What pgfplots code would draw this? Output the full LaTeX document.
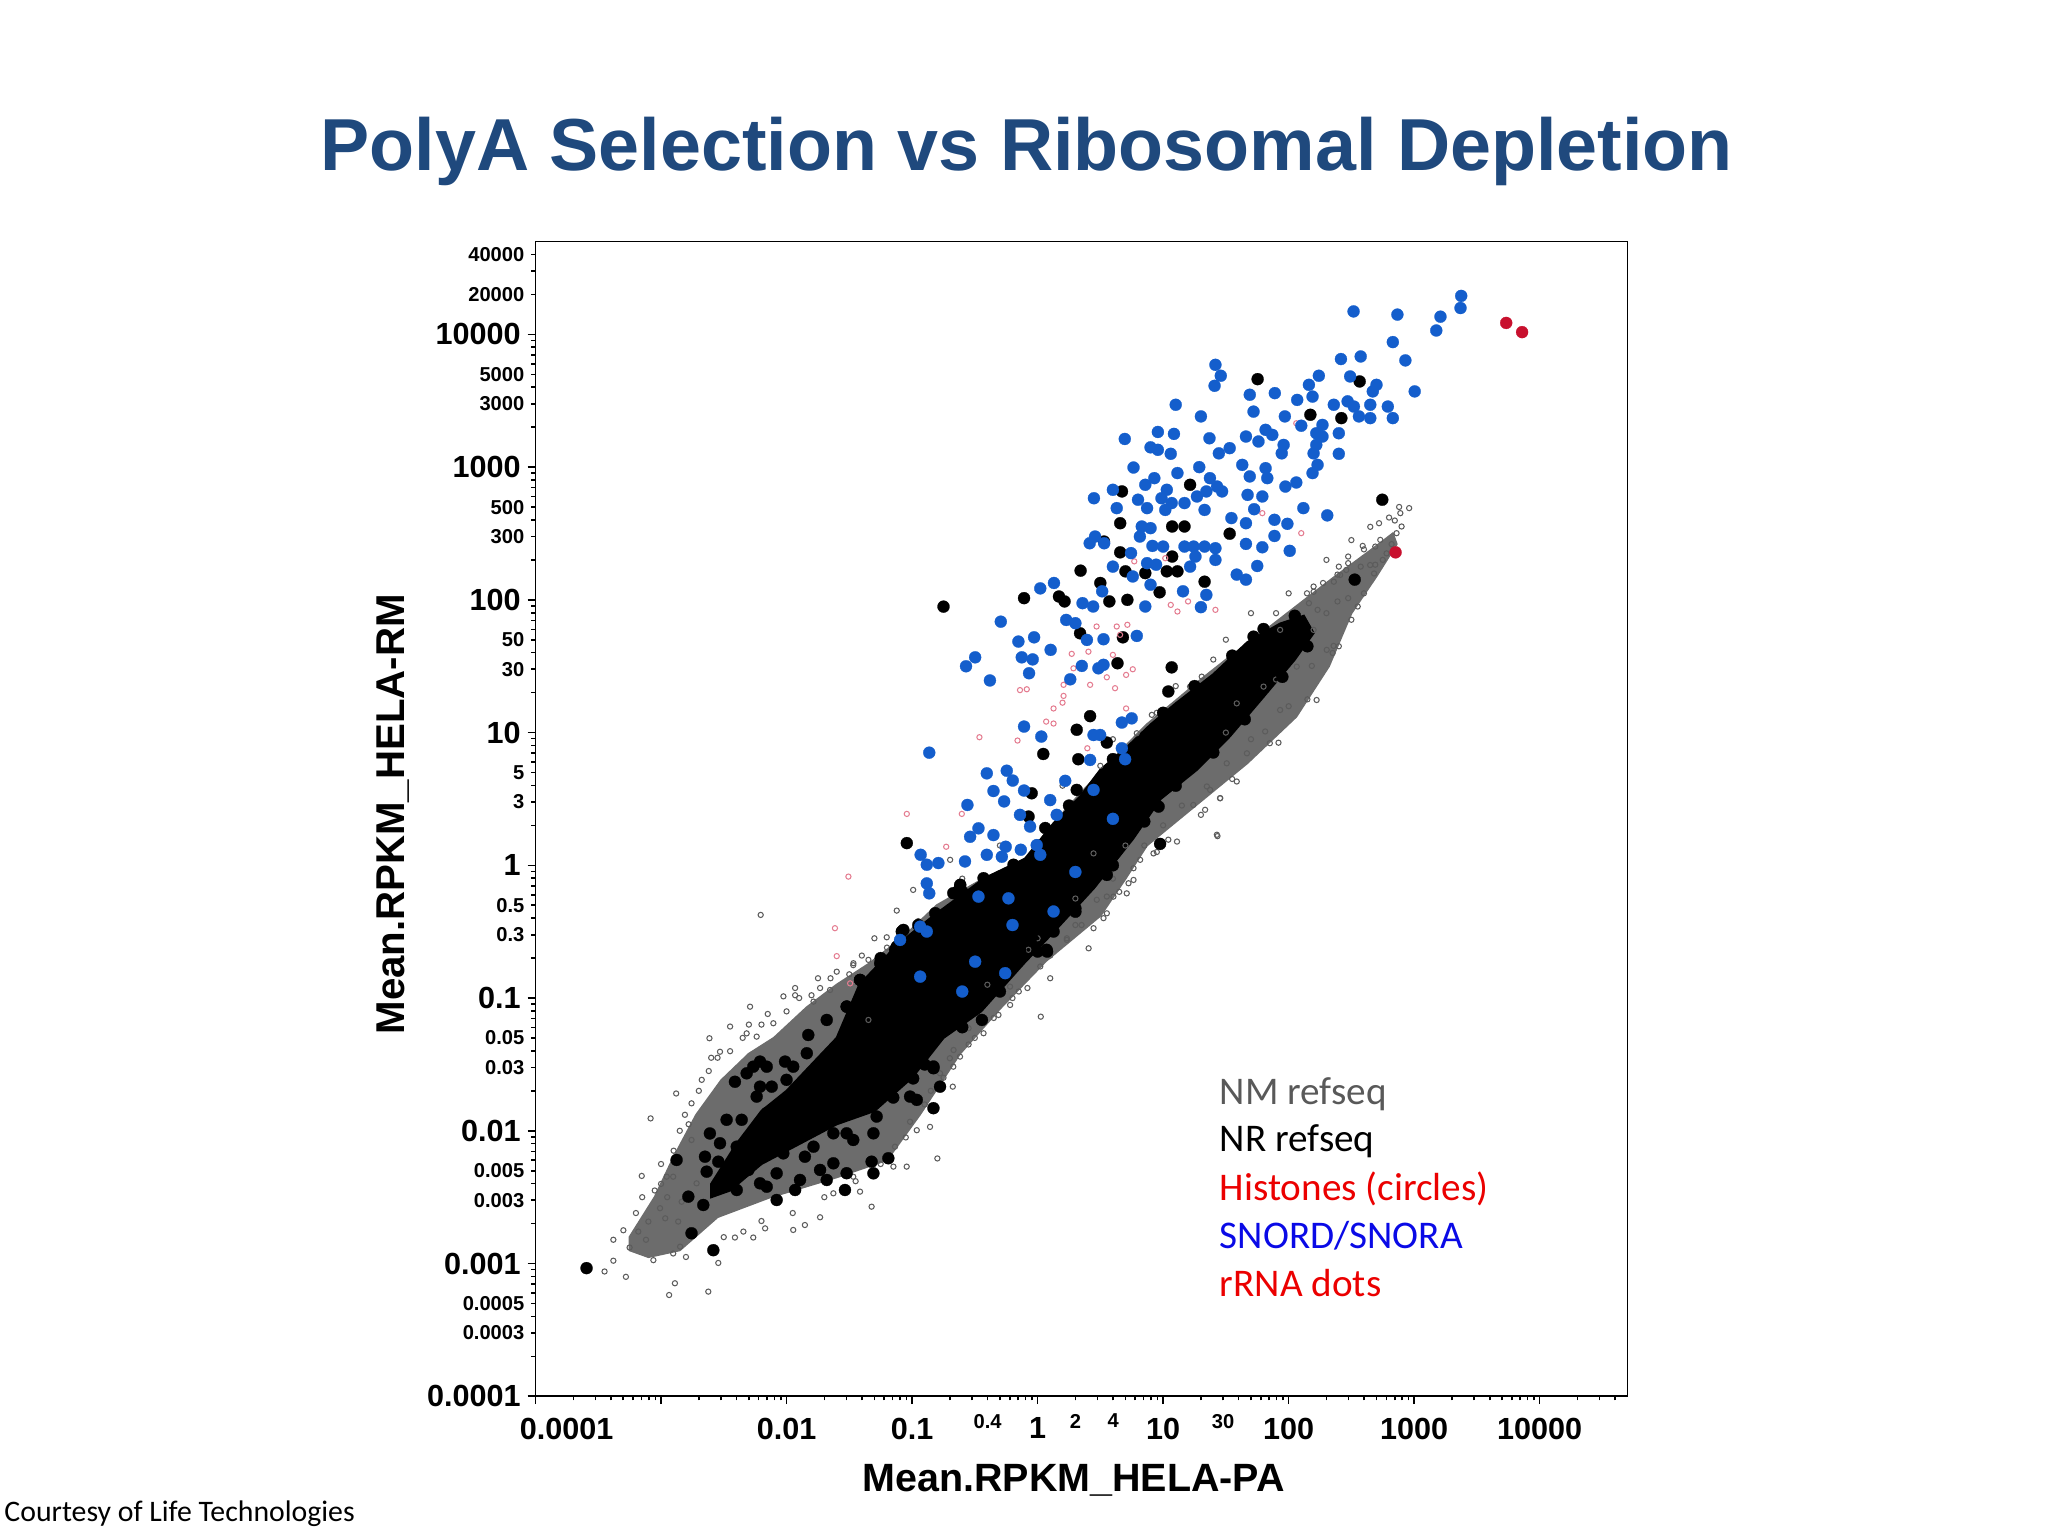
\documentclass[border=0pt]{standalone}
\usepackage{fontspec}
\setmainfont{Liberation Sans}
\newfontfamily\calibri{Carlito}
\usepackage{pgfplots}
\pgfplotsset{compat=1.18}
\definecolor{titleblue}{RGB}{31,73,125}
\definecolor{bandgray}{RGB}{108,108,108}
\definecolor{circgray}{RGB}{92,92,92}
\definecolor{dotblue}{RGB}{20,94,204}
\definecolor{dotred}{RGB}{200,16,46}
\definecolor{pinkc}{RGB}{228,125,145}
\definecolor{leggray}{RGB}{89,89,89}
\definecolor{legred}{RGB}{235,0,0}
\definecolor{legblue}{RGB}{10,10,230}
\begin{document}
\begin{tikzpicture}
\path[use as bounding box] (0,0) rectangle (784pt,588pt);
\begin{axis}[
  at={(205pt,53.5pt)}, anchor=south west,
  scale only axis, width=418pt, height=442pt,
  xmode=log, ymode=log,
  xmin=1e-4, xmax=5e4, ymin=1e-4, ymax=5e4,
  axis line style={line width=0.6pt},
  every tick/.style={line width=0.6pt, black},
  tick align=outside, tick pos=left,
  major tick length=3pt, minor tick length=1.6pt,
  /pgf/number format/assume math mode=true,
  xtick={1e-4,1e-3,0.01,0.1,1,10,100,1000,10000},
  xticklabels={\makebox[0pt][l]{\hspace{-6pt}0.0001},,0.01,0.1,1,10,100,1000,10000},
  ytick={1e-4,1e-3,0.01,0.1,1,10,100,1000,10000},
  yticklabels={0.0001,0.001,0.01,0.1,1,10,100,1000,10000},
  minor xtick={2e-4,3e-4,4e-4,5e-4,6e-4,7e-4,8e-4,9e-4,2e-3,3e-3,4e-3,5e-3,6e-3,7e-3,8e-3,9e-3,0.02,0.03,0.04,0.05,0.06,0.07,0.08,0.09,0.2,0.3,0.4,0.5,0.6,0.7,0.8,0.9,2,3,4,5,6,7,8,9,20,30,40,50,60,70,80,90,200,300,400,500,600,700,800,900,2000,3000,4000,5000,6000,7000,8000,9000,20000,30000,40000},
  minor ytick={2e-4,3e-4,4e-4,5e-4,6e-4,7e-4,8e-4,9e-4,2e-3,3e-3,4e-3,5e-3,6e-3,7e-3,8e-3,9e-3,0.02,0.03,0.04,0.05,0.06,0.07,0.08,0.09,0.2,0.3,0.4,0.5,0.6,0.7,0.8,0.9,2,3,4,5,6,7,8,9,20,30,40,50,60,70,80,90,200,300,400,500,600,700,800,900,2000,3000,4000,5000,6000,7000,8000,9000,20000,30000,40000},
  tick label style={font=\bfseries\fontsize{11.7}{12}\selectfont, inner sep=0pt},
  xticklabel style={anchor=north, yshift=-5pt},
  yticklabel style={anchor=east, xshift=-2.5pt},
  extra x ticks={0.4,2,4,30},
  extra x tick labels={0.4,2,4,30},
  extra x tick style={major tick length=1.6pt, xticklabel style={font=\bfseries\fontsize{7.7}{8}\selectfont}},
  extra y ticks={3e-4,5e-4,3e-3,5e-3,0.03,0.05,0.3,0.5,3,5,30,50,300,500,3000,5000,20000,40000},
  extra y tick labels={0.0003,0.0005,0.003,0.005,0.03,0.05,0.3,0.5,3,5,30,50,300,500,3000,5000,20000,40000},
  extra y tick style={major tick length=1.6pt, yticklabel style={font=\bfseries\fontsize{7.7}{8}\selectfont}},
]
% dense grey band (overlapping NM refseq circles)
\addplot[draw=bandgray, fill=bandgray, line width=0.8pt] coordinates {
(5.62e-4,1.58e-3)(8.91e-4,3.16e-3)(1.26e-3,6.31e-3)(1.91e-3,0.0132)(3.02e-3,0.024)(5.01e-3,0.038)(7.94e-3,0.0501)(0.0145,0.0851)(0.0251,0.126)(0.0457,0.182)(0.0851,0.288)(0.158,0.501)(0.372,0.794)(0.794,1.12)(1.35,2.09)(2.19,3.47)(4.57,7.24)(7.41,11.5)(12.6,17.4)(20,25.1)(33.9,37.2)(63.1,57.5)(126,95.5)(224,145)(355,200)(525,263)(676,316)
(724,263)(501,151)(316,79.4)(209,31.6)(115,13.2)(46.8,5.89)(18.6,2.88)(7.41,1.41)(5.01,0.794)(3.16,0.417)(1.17,0.191)(0.501,0.0832)(0.24,0.038)(0.115,0.0132)(0.0631,6.03e-3)(0.0251,4.47e-3)(7.41e-3,3.16e-3)(2.82e-3,2.24e-3)(1.41e-3,1.26e-3)(7.94e-4,1.12e-3)(5.62e-4,1.26e-3)
} -- cycle;
% NM refseq circles
\addplot[only marks, color=circgray, mark=o, mark size=1pt, mark options={draw=circgray, line width=0.4pt}] coordinates {
(6.22e-3,0.423)(1.16e-3,5.79e-4)(1.29e-3,7.1e-4)(2.38e-3,6.14e-4)(8.69e-4,1.06e-3)(6.59e-4,1.74e-3)(7.02e-4,4.57e-3)(8.26e-4,0.0124)(1.32e-3,0.0191)(2.43e-3,0.0498)(3.55e-3,0.061)(5.12e-3,0.0861)(9.44e-3,0.103)(0.0117,0.119)(0.0185,0.119)(0.0251,0.158)(0.034,0.177)(0.0449,0.194)(0.0628,0.287)(0.0755,0.456)(0.102,0.653)(0.159,6.19e-3)(0.211,0.0215)(0.241,0.0362)(1.06,0.0724)(1.26,0.141)(0.83,0.119)(0.604,0.0887)(0.488,0.0746)(0.0476,2.68e-3)(0.0385,3.48e-3)(0.0185,2.23e-3)(0.014,1.95e-3)(0.0113,1.79e-3)(6.75e-3,1.84e-3)(5.43e-3,1.57e-3)(4.53e-3,1.74e-3)(3.88e-3,1.57e-3)(2.86e-3,1.01e-3)(1.42e-3,1.34e-3)(1.25e-3,1.19e-3)(1.08e-3,2.19e-3)(9.82e-4,2.61e-3)(7.93e-4,2.07e-3)(1.37e-3,2.07e-3)(1.11e-3,4.51e-3)(1.25e-3,4.51e-3)(1.46e-3,2.92e-3)(1.92e-3,4.02e-3)(1.75e-3,8.53e-3)(1.55e-3,0.0132)(1.75e-3,0.0161)(2.11e-3,0.0242)(2.95e-3,0.0394)(4.81e-3,0.0542)(5.78e-3,0.0512)(7.85e-3,0.0646)(0.0117,0.105)(0.0164,0.094)(0.0222,0.115)(0.0449,0.0684)(0.0964,0.0117)(0.109,0.0101)(0.139,0.0107)(0.0731,7.59e-3)(0.0906,5.37e-3)(0.071,5.37e-3)(0.034,4.51e-3)(0.0236,3.38e-3)(0.2,0.0352)(0.213,0.0304)(0.37,0.0684)(0.603,0.122)(0.845,0.231)(1.71,0.274)
(26.8,1.7)(22.3,3.93)(28.5,3.21)(21.6,2.62)(12.9,1.51)(11,1.56)(6.56,1.1)(5.81,0.951)(5.3,0.733)(3.56,0.582)(2.96,0.55)(3.35,0.4)(2.79,0.336)(2.55,0.237)(1.71,0.282)(1.05,0.173)(0.371,0.0543)(0.282,0.0593)(0.214,0.0406)(0.167,0.0271)(0.0341,0.183)(0.201,1.1)(2.79,1.23)
(167,17.6)(83,8.39)(65,10.2)(85.5,14.8)(116,31.4)(153,31.8)(201,42)(228,45)(27.1,1.66)(38.6,4.28)(28.4,3.2)(23.7,3.7)(17.4,2.85)(8.38,1.23)(5.81,0.776)(5.13,0.615)(4.02,0.581)(3.56,0.435)(32.1,5.87)(46.5,6.98)(38.6,16.6)(63.1,22.2)(85.5,59.4)(158,115)(257,154)(446,183)(20.3,26.4)(16.4,22.2)(8.13,13.6)(6.17,9.89)(158,59.4)
(912,491)(776,450)(701,396)(794,357)(724,318)(525,378)(537,283)(490,252)(389,255)(490,184)(375,178)(298,212)(298,189)(288,168)(245,155)(229,137)(188,134)(298,103)(245,97.3)(200,79.4)(170,84.1)(140,112)(145,94.4)
(5.01e-4,1.78e-3)(5.62e-4,1.32e-3)(4.17e-4,1.05e-3)(6.31e-4,2.4e-3)(3.55e-4,8.71e-4)(7.08e-4,3.16e-3)(4.17e-4,1.51e-3)(7.59e-4,1.51e-3)(8.91e-4,3.55e-3)(5.25e-4,7.94e-4)
(10,2)(14.1,2.82)(50.1,8.91)(100,15.8)(224,39.8)(316,70.8)(398,112)(562,200)(661,263)(2,0.355)(3.98,0.794)(7.08,1.41)(0.631,0.1)(0.316,0.0501)(0.141,0.02)(31.6,50.1)(50.1,79.4)(100,112)(200,200)(316,282)(447,355)(631,417)(759,501)(12.6,22.4)(3.98,8.91)(1.58,3.98)(0.501,1.41)(0.251,0.794)(0.0501,0.282)(0.0178,0.141)(5.01e-3,0.0631)(2.51e-3,0.0355)
(1e-3,5.62e-3)(1.41e-3,0.01)(2e-3,0.02)(2.4e-3,0.0282)(3.55e-3,0.0398)(6.31e-3,0.0631)(0.01,0.0794)(0.0158,0.105)(0.0316,0.151)(0.0631,0.24)(0.112,0.38)(1.12e-3,3.16e-3)(1e-3,3.98e-3)(1.26e-3,7.08e-3)(1.66e-3,0.0112)(2.82e-3,0.0355)(4.47e-3,0.0501)(7.08e-3,0.0759)(0.0126,0.1)(0.0224,0.141)(0.0398,0.209)
(1.58e-3,1.12e-3)(3.16e-3,1.58e-3)(6.31e-3,2.09e-3)(0.0112,2.4e-3)(0.02,3.16e-3)(0.0355,4.17e-3)(0.0562,5.62e-3)(0.0891,8.91e-3)(0.126,0.0158)(0.178,0.0251)(0.282,0.0447)(0.447,0.0708)(0.708,0.112)(1.26,0.209)(2.24,0.355)(4.47,0.631)(8.91,1.26)(20,2.4)(35.5,4.47)(70.8,8.32)(141,17.8)(251,44.7)(355,89.1)(479,158)(603,224)
(79.4,79.4)(158,126)(251,178)(398,240)(25.1,35.5)(8.91,14.1)(3.16,5.62)
};
% dense core of NR refseq dots
\addplot[draw=black, fill=black, line width=0.8pt] coordinates {
(2.51e-3,3.98e-3)(3.98e-3,7.94e-3)(6.31e-3,0.0141)(0.01,0.02)(0.0158,0.0316)(0.0251,0.0501)(0.038,0.126)(0.0759,0.251)(0.148,0.417)(0.372,0.794)(0.794,1.12)(1.35,2.09)(2.19,3.31)(3.16,5.25)(5.01,7.59)(7.94,11.5)(12.6,16.6)(25.1,27.5)(46.8,47.9)(85.1,66.1)(132,75.9)
(158,56.2)(112,35.5)(63.1,18.6)(33.9,9.33)(18.6,5.25)(9.55,3.16)(5.75,1.58)(2.82,0.676)(1.35,0.316)(0.776,0.182)(0.355,0.0794)(0.178,0.0501)(0.1,0.0251)(0.0501,0.0141)(0.0251,0.0112)(0.0126,7.94e-3)(6.31e-3,5.62e-3)(3.55e-3,3.55e-3)(2.51e-3,3.16e-3)
} -- cycle;
\addplot[only marks, color=circgray, mark=o, mark size=1pt, mark options={draw=circgray, line width=0.4pt}] coordinates {
(2,0.562)(1,0.282)(0.398,0.126)(5.01,1.41)(12.6,3.98)(31.6,10)(79.4,25.1)
};
% NR refseq dots
\addplot[only marks, color=black, mark=*, mark size=2.3pt, mark options={fill=black, draw=black, line width=0.1pt}] coordinates {
(56.6,4600)(368,4420)(149,2480)(263,2340)(16.4,736)(4.7,656)(4.55,378)(11.8,357)(14.8,357)(33.9,315)(3.38,275)(4.55,228)(11.8,212)(2.2,166)(5.01,164)(7.21,159)(10.7,164)(13,164)(21.4,137)(3.16,134)(9.38,114)(5.19,100)(3.73,97.3)(1.48,106)(1.64,97.3)(557,568)(336,142)(117,68.7)
(0.178,88.9)(0.78,103)(4.78,52.2)(2.18,56)(4.33,33.3)(11.7,31)(11,20.4)(2.62,13.3)(2.05,10.5)(3.56,8.41)(1.11,6.9)(2.11,6.3)(0.897,3.49)(2.05,3.7)(0.0908,1.47)(9.46,1.45)(52.5,52.8)
(0.371,0.8)(0.242,0.713)(0.153,0.436)(0.214,0.449)(0.273,0.533)(0.473,0.776)(0.569,0.824)(0.643,1.01)(0.847,2.33)(1.15,1.91)(2.18,2.69)(3.56,0.847)(9.2,2.77)(2,0.475)(1.19,0.224)(0.726,0.224)(0.9,0.29)(1.34,0.317)(0.36,0.0684)(0.535,0.154)(0.0828,0.317)(0.0733,0.231)(0.0557,0.183)(0.0385,0.137)(0.0302,0.0863)(0.0463,0.0815)(0.0668,0.122)(0.116,0.173)(0.167,0.244)(0.242,0.346)(0.419,0.388)(0.29,0.218)(0.201,0.137)(0.123,0.0863)(0.0908,0.0543)(0.148,0.0305)(0.0592,0.0431)(0.0385,0.0543)(0.228,0.0724)(0.643,0.436)(1.05,0.489)(0.929,0.776)(1.42,1.04)(1.93,1.39)(2.79,1.85)(4.03,2.47)(5.81,3.49)(1.71,0.776)(3.56,1.39)(1.26,0.653)(0.504,0.29)(0.371,0.173)(0.82,0.346)
(1.33e-3,6.03e-3)(1.65e-3,3.19e-3)(2.17e-3,2.76e-3)(1.75e-3,1.69e-3)(2.61e-3,1.26e-3)(3.33e-3,0.0121)(3.88e-3,0.0234)(2.45e-3,9.55e-3)(2.24e-3,6.38e-3)(2.86e-3,5.85e-3)(2.31e-3,4.92e-3)(4.01e-3,7.59e-3)(4.97e-3,5.07e-3)(6.15e-3,4.02e-3)(6.95e-3,3.79e-3)(8.34e-3,3.01e-3)(0.0117,3.58e-3)(6.15e-3,0.0332)(6.95e-3,0.0304)(9.73e-3,0.0332)(0.01,0.0242)(5.78e-3,0.0181)(6.95e-3,0.0136)(4.39e-3,0.0121)(8.34e-3,0.0107)(0.0113,9.04e-3)(0.014,6.38e-3)(0.0185,5.07e-3)(0.0236,5.69e-3)(0.0301,4.79e-3)(0.0292,3.58e-3)(0.0492,9.57e-3)(0.0647,6.21e-3)(0.0476,5.85e-3)(0.0964,0.0181)(0.109,0.0171)(0.148,0.0148)(0.148,0.0296)(0.102,0.0248)(0.0522,0.0128)(0.034,0.0166)(0.0185,0.0181)(0.0145,0.0384)(0.0209,0.0362)(0.0301,0.0513)(0.0149,0.0527)(0.0164,0.0228)(0.0301,0.0861)(0.0385,0.137)(0.0628,0.137)(0.0556,0.0767)(0.0906,0.0724)(0.131,0.0456)(0.0755,0.244)(0.0853,0.326)(0.213,0.617)(0.241,0.0646)(0.213,0.0861)(0.29,0.137)(0.394,0.183)(0.724,0.231)(1.18,0.231)(0.925,0.326)(0.533,0.489)(0.394,0.308)(0.157,0.145)(0.0906,0.154)(0.241,0.692)(1.26,0.617)(1.51,0.436)(0.034,8.53e-3)(0.0236,9.57e-3)(0.0185,0.0121)(0.0132,0.0136)(0.0128,0.0215)(7.62e-3,0.0215)(4.81e-3,0.0271)(9.42e-3,6.76e-3)(6.53e-3,7.59e-3)(8.34e-3,4.78e-3)
(7.38e-3,9.57e-3)(5.43e-3,0.0304)(0.01,0.0136)(0.0113,0.0304)(0.0236,0.0304)(0.034,0.0304)(0.0435,0.0215)(0.071,0.0242)(0.071,0.0483)(0.116,0.0684)(0.167,0.0684)(0.102,0.0384)(0.167,0.0215)(0.034,0.0483)(0.0209,0.0684)(0.0492,0.115)(0.0301,9.57e-3)(0.0164,7.59e-3)(4.81e-3,7.59e-3)(3.55e-3,5.37e-3)(2.95e-3,8.05e-3)(4.01e-3,3.58e-3)(6.15e-3,0.0215)(0.0128,4.26e-3)(0.0209,4.26e-3)(0.0492,4.78e-3)(0.213,0.183)(0.533,0.183)(0.102,0.0968)(0.0628,0.0384)
(0.0562,0.2)(0.112,0.355)(0.251,0.631)(1,1.41)(1.78,2.82)(3.98,6.31)(10,14.1)(17.8,22.4)(35.5,38)(63.1,60.3)(112,75.9)(141,44.7)(89.1,26.3)(44.7,12.6)(25.1,7.08)(12.6,3.98)(7.08,2.14)(3.98,1)(2,0.447)(1,0.224)(0.501,0.112)(0.251,0.0603)(0.126,0.0316)(0.0708,0.0178)
(2.55e-4,9.23e-4)
};
% histone circles
\addplot[only marks, color=pinkc, mark=o, mark size=1pt, mark options={draw=pinkc, line width=0.4pt}] coordinates {
(61.7,450)(126,318)(5.89,195)(10.4,206)(11.5,91.6)(13,81.7)(15.8,97.3)(26.1,84.1)(2.95,63)(4.27,63)(5.19,64.9)(115,2140)
(1.87,39.2)(2.54,40.7)(3.98,38.5)(1.93,30.5)(3.56,26.1)(5.07,27.2)(5.73,30)(0.724,20.9)(0.82,21.2)(1.61,22.9)(2.62,22.9)(4.14,21.6)(1.61,18.9)(1.58,16.8)(1.34,15.2)(1.17,12.1)(1.34,11.7)(5.07,15.2)(0.692,8.71)(0.344,9.23)(2.49,7.62)(0.0908,2.44)(0.249,2.44)(0.187,1.38)(4.54,54.5)
(0.0311,0.822)(0.0321,0.129)(0.0243,0.336)(0.0251,0.207)
};
% SNORD / SNORA
\addplot[only marks, color=dotblue, mark=*, mark size=2.3pt, mark options={fill=dotblue, draw=dotblue, line width=0.1pt}] coordinates {
(2370,19500)(2340,15800)(1620,13600)(1500,10700)(329,14900)(735,14100)(676,8750)(851,6370)(375,6820)(261,6520)(1010,3720)(174,4880)(309,4820)(145,4170)(155,3400)(117,3210)(501,4170)(468,3720)(447,2950)(617,2860)(676,2340)(363,2410)(447,2340)(295,3130)(331,2860)(229,2950)(26.1,5900)(28.8,4880)(25.7,4100)(49,3510)(77.6,3610)(52.5,2620)(93.3,2410)(126,2050)(186,2080)(166,1800)(186,1700)(251,1800)(251,1260)(166,1470)(158,1270)(170,1040)(155,902)(65.5,1910)(74.1,1750)(57.5,1560)(45.7,1700)(91.2,1470)(88.1,1270)(33.9,1390)(27.8,1270)(23.4,1650)(20,2410)(12.6,2950)(12.2,1780)(9.08,1840)(7.94,1410)(9.08,1350)(11.5,1260)(4.95,1630)(5.81,993)(19.4,1000)(13,902)(42.7,1040)(49,851)(65.5,982)(67.6,826)(94.2,714)(115,766)(47.1,618)(61.7,601)(53.1,482)(23.6,826)(26.9,714)(29.5,656)(22.1,656)(18.6,601)(8.51,826)(7.21,736)(3.98,675)(2.81,583)(6.31,568)(9.7,583)(11.7,536)(14.8,536)(4.27,491)(7.45,491)(10.4,476)(21.4,476)(35,413)(45.7,378)(77.1,401)(97.7,374)(131,491)(203,433)(77.1,303)(102,234)(61.7,249)(45.7,264)(56.2,180)(38.6,155)(45.7,142)(26.1,245)(26.1,200)(21.4,252)(17.5,252)(18.1,212)(14.8,252)(16.4,178)(14.4,116)(22.1,109)(20,88.1)(10,252)(8.22,255)(6.76,357)(7.94,347)(6.53,300)(2.87,300)(2.6,267)(3.39,267)(5.55,225)(7.45,189)(8.79,184)(3.98,178)(5.73,150)(7.94,130)(7.21,89.1)(3.27,116)(2.28,94.4)(2.77,89.1)(1.35,134)(1.69,70.6)(2,66.7)(10.7,675)
(0.509,68.5)(0.269,31.6)(0.318,36.9)(0.417,24.7)(0.703,48.5)(0.938,52.2)(1.27,42)(0.748,36.9)(0.914,35.6)(0.855,28)(0.137,7.06)(0.78,11.1)(1.07,9.33)(0.394,4.93)(0.568,5.16)(0.634,4.35)(0.445,3.63)(0.541,3.03)(0.276,2.85)(0.78,3.66)(1.66,4.33)(1.26,3.1)(2.79,3.7)(2.79,9.59)(3.15,9.59)(4.69,11.9)(5.62,12.8)(2.62,6.22)(4.69,7.62)(4.98,6.3)(0.338,1.9)(0.29,1.64)(0.445,1.69)(0.724,2.4)(0.871,1.96)(0.557,1.38)(0.394,1.2)(0.264,1.07)(0.117,1.2)(0.131,1.01)(0.162,1.04)(0.131,0.731)(0.137,0.615)(0.735,1.31)(0.984,1.42)(1.05,1.2)(0.338,0.581)(0.116,0.345)(0.0802,0.274)(0.586,0.564)
(2.47,49.9)(3.35,50.5)(6.17,53.5)(2.25,31.8)(3.05,30.5)(3.35,32.4)(1.82,25.2)(1.05,122)
(0.519,1.16)(1.42,2.4)(1.34,0.449)(0.131,0.317)(0.552,0.154)(0.116,0.145)(0.318,0.188)(0.251,0.112)(0.631,0.355)(2,0.891)(3.98,2.24)
};
% rRNA dots
\addplot[only marks, color=dotred, mark=*, mark size=2.3pt, mark options={fill=dotred, draw=dotred, line width=0.1pt}] coordinates {
(5410,12200)(7240,10400)(711,228)
};
\end{axis}
\node[anchor=base, inner sep=0pt, text=titleblue, font=\bfseries\fontsize{28.2}{32}\selectfont] at (393pt,522.75pt) {PolyA Selection vs Ribosomal Depletion};
\node[anchor=base, inner sep=0pt, font=\bfseries\fontsize{15.1}{18}\selectfont] at (411pt,16.9pt) {Mean.RPKM\_HELA-PA};
\node[anchor=base, rotate=90, inner sep=0pt, font=\bfseries\fontsize{15.4}{18}\selectfont] at (155pt,276.25pt) {Mean.RPKM\_HELA-RM};
\begin{scope}[every node/.style={anchor=base west, inner sep=0pt, font=\calibri\fontsize{15}{18}\selectfont}]
\node[text=leggray] at (466.8pt,165pt) {NM refseq};
\node[text=black] at (466.8pt,147.1pt) {NR refseq};
\node[text=legred] at (466.8pt,128.6pt) {Histones (circles)};
\node[text=legblue] at (466.8pt,110.1pt) {SNORD/SNORA};
\node[text=legred] at (466.8pt,91.85pt) {rRNA dots};
\end{scope}
\node[anchor=base west, inner sep=0pt, font=\calibri\fontsize{11.4}{13}\selectfont] at (1.5pt,5.5pt) {Courtesy of Life Technologies};
\end{tikzpicture}
\end{document}
